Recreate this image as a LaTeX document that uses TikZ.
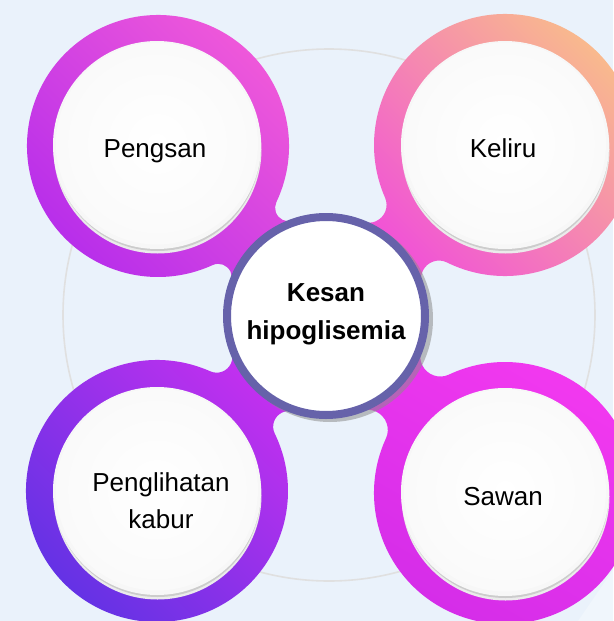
\documentclass[tikz,border=0pt]{standalone}
\usepackage{fontspec}
\setmainfont{Liberation Sans}
\usetikzlibrary{calc}

\definecolor{bg}{RGB}{234,242,251}
\definecolor{hubring}{RGB}{102,98,170}
\definecolor{tlA}{RGB}{244,92,216}
\definecolor{tlB}{RGB}{236,52,242}
\definecolor{tlC}{RGB}{178,42,236}
\definecolor{trA}{RGB}{249,190,138}
\definecolor{trB}{RGB}{243,114,196}
\definecolor{trC}{RGB}{240,72,222}
\definecolor{blA}{RGB}{204,48,240}
\definecolor{blB}{RGB}{140,46,236}
\definecolor{blC}{RGB}{96,50,228}
\definecolor{brA}{RGB}{246,58,240}
\definecolor{brB}{RGB}{238,48,240}
\definecolor{brC}{RGB}{210,44,232}

% hub centre (px) and petal geometry (tens of px)
\def\Qx{326}\def\Qy{316}
\def\Rone{13.1}   % outer radius of a petal ring
\def\Rtwo{10.1}   % radius the neck blends into, at the hub rim
\def\Alpha{20}    % half-angle where the neck leaves the ring

% a ring centred at (#1,#2) with a filleted neck running to the hub
\newcommand\petal[3]{%
  \pgfmathsetmacro\PetDx{(\Qx-#1)/10}%
  \pgfmathsetmacro\PetDy{(\Qy-#2)/10}%
  \pgfmathsetmacro\PetD{veclen(\PetDx,\PetDy)}%
  \pgfmathsetmacro\PetTh{atan2(\PetDy,\PetDx)}%
  \pgfmathsetmacro\PetRf{(\Rone*\Rone+\PetD*\PetD-2*\PetD*\Rone*cos(\Alpha)-\Rtwo*\Rtwo)/(2*(\Rtwo-\Rone+\PetD*cos(\Alpha)))}%
  \pgfmathsetmacro\PetA{\Rone+\PetRf}%
  \pgfmathsetmacro\PetB{\Rtwo+\PetRf}%
  \pgfmathsetmacro\PetGam{acos((\PetA*\PetA+\PetB*\PetB-\PetD*\PetD)/(2*\PetA*\PetB))}%
  \pgfmathsetmacro\PetR{10*\Rone}%
  \pgfmathsetmacro\PetF{10*\PetRf}%
  \pgfmathsetmacro\PetAA{10*\PetA}%
  \shade[#3] ($(#1,#2)+(\PetTh-\Alpha:\PetR)$)
    arc[start angle=\PetTh-\Alpha, delta angle=-360+2*\Alpha, radius=\PetR]
    arc[start angle=\PetTh+\Alpha+180, delta angle=\PetGam, radius=\PetF]
    -- (Q)
    -- ($(#1,#2)+(\PetTh-\Alpha:\PetAA)+(\PetTh-\Alpha+180-\PetGam:\PetF)$)
    arc[start angle=\PetTh-\Alpha+180-\PetGam, delta angle=\PetGam, radius=\PetF]
    -- cycle;
}

% white button with a soft rim underneath
\newcommand\button[2]{%
  \fill[black!8] ($(#1,#2)+(0.5,4.5)$) circle[radius=104];
  \fill[black!20] ($(#1,#2)+(0.5,3)$) circle[radius=103];
  \fill[white!97!black] (#1,#2) circle[radius=104];
  \shade[inner color=white, outer color=white!98!black] ($(#1,#2)+(0,-1.5)$) circle[radius=101];
}

\tikzset{
  label/.style={font=\fontsize{26}{36.6}\selectfont, text=black, inner sep=0pt, align=center},
  hub/.style={font=\bfseries\fontsize{26}{38}\selectfont, text=black, inner sep=0pt, align=center},
}

\begin{document}
\begin{tikzpicture}[x=1pt,y=-1pt]
  \fill[bg] (0,0) rectangle (613,621);
  \useasboundingbox (0,0) rectangle (613,621);
  \coordinate (Q) at (\Qx,\Qy);

  % faint guide ring behind everything
  \draw[black!12, line width=1.6] (329,315) circle[radius=266];

  % coloured petal rings
  \petal{158}{146}{top color=tlA, middle color=tlB, bottom color=tlC, shading angle=-45}
  \petal{505}{145}{top color=trA, middle color=trB, bottom color=trC, shading angle=-45}
  \petal{157}{491}{top color=blA, middle color=blB, bottom color=blC, shading angle=-45}
  \petal{505}{493}{top color=brA, middle color=brB, bottom color=brC, shading angle=-30}

  % white buttons
  \button{157}{145}
  \button{505}{145}
  \button{157}{491}
  \button{505}{492}

  % hub
  \fill[black!45, opacity=.55] ($(Q)+(4,3)$) circle[radius=103];
  \draw[hubring, line width=8, fill=white] (Q) circle[radius=99];
  \node[hub] (hubtext) at (326,314.5) {Kesan\\hipoglisemia};

  % labels
  \node[label, anchor=base] (pengsan) at (155,157) {Pengsan};
  \node[label, anchor=base] (keliru) at (503,157) {Keliru};
  \node[label] (penglihatan) at (161,500.5) {Penglihatan\\kabur};
  \node[label, anchor=base] (sawan) at (503,505) {Sawan};

  % clipped lower-right corner
  \fill[bg!70!white] (613,570) -- (613,621) -- (578,621) -- cycle;
\end{tikzpicture}
\end{document}
